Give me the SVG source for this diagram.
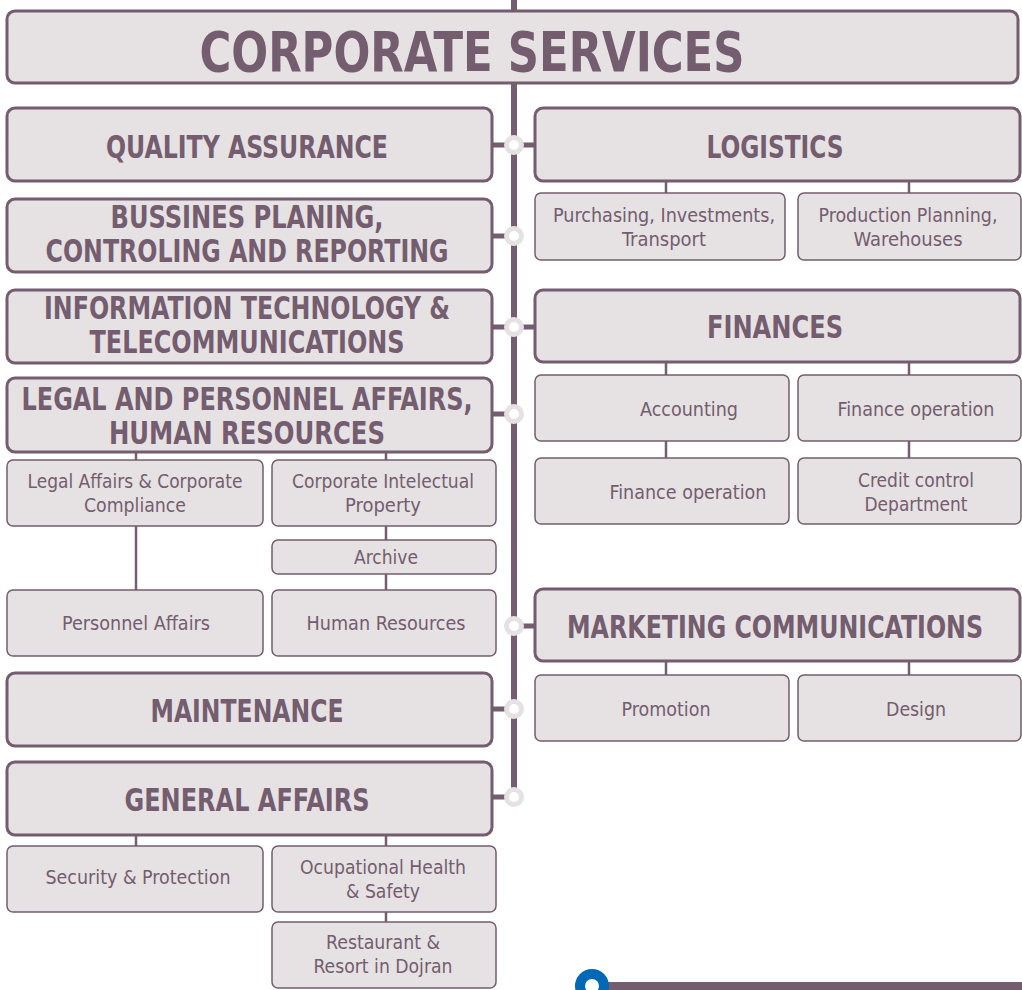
<svg xmlns="http://www.w3.org/2000/svg" width="1022" height="990" viewBox="0 0 1022 990">
<style>
.main{fill:#E6E1E3;stroke:#735D6E;stroke-width:3}
.sub{fill:#E6E1E3;stroke:#735D6E;stroke-width:1.5}
.h{font-family:"DejaVu Sans Condensed","Liberation Sans Narrow","Liberation Sans",sans-serif;font-weight:bold;fill:#735D6E;text-anchor:middle}
.t{font-family:"DejaVu Sans Condensed","Liberation Sans Narrow","Liberation Sans",sans-serif;fill:#735D6E;text-anchor:middle;font-size:19px}
.ln{stroke:#735D6E;stroke-width:2.5;fill:none}
.hc{stroke:#735D6E;stroke-width:5;fill:none}
.dot{fill:#fff;stroke:#E6E1E3;stroke-width:5}
</style>
<rect width="1022" height="990" fill="#fff"/>
<g id="connectors">
<line x1="514" y1="0" x2="514" y2="12" stroke="#735D6E" stroke-width="6"/>
<line x1="514" y1="82" x2="514" y2="792" stroke="#735D6E" stroke-width="6"/>
<line class="hc" x1="492" y1="145" x2="535" y2="145"/>
<line class="hc" x1="492" y1="236" x2="510" y2="236"/>
<line class="hc" x1="492" y1="327" x2="535" y2="327"/>
<line class="hc" x1="492" y1="414" x2="510" y2="414"/>
<line class="hc" x1="518" y1="626" x2="535" y2="626"/>
<line class="hc" x1="492" y1="709" x2="510" y2="709"/>
<line class="hc" x1="492" y1="797" x2="510" y2="797"/>
<circle class="dot" cx="514" cy="145" r="7.5"/>
<circle class="dot" cx="514" cy="236" r="7.5"/>
<circle class="dot" cx="514" cy="327" r="7.5"/>
<circle class="dot" cx="514" cy="414" r="7.5"/>
<circle class="dot" cx="514" cy="626" r="7.5"/>
<circle class="dot" cx="514" cy="709" r="7.5"/>
<circle class="dot" cx="514" cy="797" r="7.5"/>
<line class="ln" x1="666" y1="181" x2="666" y2="193"/>
<line class="ln" x1="909" y1="181" x2="909" y2="193"/>
<line class="ln" x1="666" y1="362" x2="666" y2="375"/>
<line class="ln" x1="909" y1="362" x2="909" y2="375"/>
<line class="ln" x1="666" y1="441" x2="666" y2="458"/>
<line class="ln" x1="909" y1="441" x2="909" y2="458"/>
<line class="ln" x1="666" y1="661" x2="666" y2="675"/>
<line class="ln" x1="909" y1="661" x2="909" y2="675"/>
<line class="ln" x1="136" y1="452" x2="136" y2="460"/>
<line class="ln" x1="386" y1="452" x2="386" y2="460"/>
<line class="ln" x1="136" y1="526" x2="136" y2="590"/>
<line class="ln" x1="386" y1="526" x2="386" y2="540"/>
<line class="ln" x1="386" y1="574" x2="386" y2="590"/>
<line class="ln" x1="136" y1="835" x2="136" y2="846"/>
<line class="ln" x1="386" y1="835" x2="386" y2="846"/>
<line class="ln" x1="386" y1="912" x2="386" y2="922"/>
<rect x="605" y="982" width="417" height="10" fill="#735D6E"/>
<circle cx="592" cy="986" r="12" fill="#fff" stroke="#0068B4" stroke-width="10"/>
</g>
<g id="corporate-services"><rect class="main" x="7" y="11" width="1011" height="72" rx="8"/><text class="h" x="472" y="71" font-size="56" textLength="545" lengthAdjust="spacingAndGlyphs">CORPORATE SERVICES</text></g>
<g id="quality-assurance"><rect class="main" x="7" y="108" width="485" height="73" rx="8"/><text class="h" x="247" y="158" font-size="32" textLength="282" lengthAdjust="spacingAndGlyphs">QUALITY ASSURANCE</text></g>
<g id="business-planning"><rect class="main" x="7" y="199" width="485" height="73" rx="8"/><text class="h" x="247" y="228" font-size="32" textLength="273" lengthAdjust="spacingAndGlyphs">BUSSINES PLANING,</text><text class="h" x="247" y="262" font-size="32" textLength="403" lengthAdjust="spacingAndGlyphs">CONTROLING AND REPORTING</text></g>
<g id="it-telecom"><rect class="main" x="7" y="290" width="485" height="73" rx="8"/><text class="h" x="247" y="319" font-size="32" textLength="406" lengthAdjust="spacingAndGlyphs">INFORMATION TECHNOLOGY &amp;</text><text class="h" x="247" y="353" font-size="32" textLength="315" lengthAdjust="spacingAndGlyphs">TELECOMMUNICATIONS</text></g>
<g id="legal-personnel-hr"><rect class="main" x="7" y="378" width="485" height="74" rx="8"/><text class="h" x="247" y="410" font-size="32" textLength="451" lengthAdjust="spacingAndGlyphs">LEGAL AND PERSONNEL AFFAIRS,</text><text class="h" x="247" y="444" font-size="32" textLength="276" lengthAdjust="spacingAndGlyphs">HUMAN RESOURCES</text></g>
<g id="maintenance"><rect class="main" x="7" y="673" width="485" height="73" rx="8"/><text class="h" x="247" y="722" font-size="32" textLength="193" lengthAdjust="spacingAndGlyphs">MAINTENANCE</text></g>
<g id="general-affairs"><rect class="main" x="7" y="762" width="485" height="73" rx="8"/><text class="h" x="247" y="811" font-size="32" textLength="245" lengthAdjust="spacingAndGlyphs">GENERAL AFFAIRS</text></g>
<g id="logistics"><rect class="main" x="535" y="108" width="485" height="73" rx="8"/><text class="h" x="775" y="158" font-size="32" textLength="137" lengthAdjust="spacingAndGlyphs">LOGISTICS</text></g>
<g id="finances"><rect class="main" x="535" y="290" width="485" height="72" rx="8"/><text class="h" x="775" y="338" font-size="32" textLength="136" lengthAdjust="spacingAndGlyphs">FINANCES</text></g>
<g id="marketing"><rect class="main" x="535" y="589" width="485" height="72" rx="8"/><text class="h" x="775" y="638" font-size="32" textLength="416" lengthAdjust="spacingAndGlyphs">MARKETING COMMUNICATIONS</text></g>
<g id="purchasing"><rect class="sub" x="535" y="193" width="250" height="67" rx="6"/><text class="t" x="664" y="222" textLength="222" lengthAdjust="spacingAndGlyphs">Purchasing, Investments,</text><text class="t" x="664" y="246" textLength="84" lengthAdjust="spacingAndGlyphs">Transport</text></g>
<g id="production-planning"><rect class="sub" x="798" y="193" width="223" height="67" rx="6"/><text class="t" x="908" y="222" textLength="179" lengthAdjust="spacingAndGlyphs">Production Planning,</text><text class="t" x="908" y="246" textLength="109" lengthAdjust="spacingAndGlyphs">Warehouses</text></g>
<g id="accounting"><rect class="sub" x="535" y="375" width="254" height="66" rx="6"/><text class="t" x="689" y="416" textLength="98" lengthAdjust="spacingAndGlyphs">Accounting</text></g>
<g id="finance-operation-1"><rect class="sub" x="798" y="375" width="223" height="66" rx="6"/><text class="t" x="916" y="416" textLength="157" lengthAdjust="spacingAndGlyphs">Finance operation</text></g>
<g id="finance-operation-2"><rect class="sub" x="535" y="458" width="254" height="66" rx="6"/><text class="t" x="688" y="499" textLength="157" lengthAdjust="spacingAndGlyphs">Finance operation</text></g>
<g id="credit-control"><rect class="sub" x="798" y="458" width="223" height="66" rx="6"/><text class="t" x="916" y="487" textLength="116" lengthAdjust="spacingAndGlyphs">Credit control</text><text class="t" x="916" y="511" textLength="103" lengthAdjust="spacingAndGlyphs">Department</text></g>
<g id="promotion"><rect class="sub" x="535" y="675" width="254" height="66" rx="6"/><text class="t" x="666" y="716" textLength="89" lengthAdjust="spacingAndGlyphs">Promotion</text></g>
<g id="design"><rect class="sub" x="798" y="675" width="223" height="66" rx="6"/><text class="t" x="916" y="716" textLength="60" lengthAdjust="spacingAndGlyphs">Design</text></g>
<g id="legal-affairs"><rect class="sub" x="7" y="460" width="256" height="66" rx="6"/><text class="t" x="135" y="488" textLength="215" lengthAdjust="spacingAndGlyphs">Legal Affairs &amp; Corporate</text><text class="t" x="135" y="512" textLength="102" lengthAdjust="spacingAndGlyphs">Compliance</text></g>
<g id="intellectual-property"><rect class="sub" x="272" y="460" width="224" height="66" rx="6"/><text class="t" x="383" y="488" textLength="182" lengthAdjust="spacingAndGlyphs">Corporate Intelectual</text><text class="t" x="383" y="512" textLength="76" lengthAdjust="spacingAndGlyphs">Property</text></g>
<g id="archive"><rect class="sub" x="272" y="540" width="224" height="34" rx="6"/><text class="t" x="386" y="564" textLength="64" lengthAdjust="spacingAndGlyphs">Archive</text></g>
<g id="personnel-affairs"><rect class="sub" x="7" y="590" width="256" height="66" rx="6"/><text class="t" x="136" y="630" textLength="148" lengthAdjust="spacingAndGlyphs">Personnel Affairs</text></g>
<g id="human-resources"><rect class="sub" x="272" y="590" width="224" height="66" rx="6"/><text class="t" x="386" y="630" textLength="159" lengthAdjust="spacingAndGlyphs">Human Resources</text></g>
<g id="security"><rect class="sub" x="7" y="846" width="256" height="66" rx="6"/><text class="t" x="138" y="884" textLength="185" lengthAdjust="spacingAndGlyphs">Security &amp; Protection</text></g>
<g id="health-safety"><rect class="sub" x="272" y="846" width="224" height="66" rx="6"/><text class="t" x="383" y="874" textLength="166" lengthAdjust="spacingAndGlyphs">Ocupational Health</text><text class="t" x="383" y="898" textLength="74" lengthAdjust="spacingAndGlyphs">&amp; Safety</text></g>
<g id="restaurant"><rect class="sub" x="272" y="922" width="224" height="66" rx="6"/><text class="t" x="383" y="949" textLength="114" lengthAdjust="spacingAndGlyphs">Restaurant &amp;</text><text class="t" x="383" y="973" textLength="139" lengthAdjust="spacingAndGlyphs">Resort in Dojran</text></g>
</svg>
